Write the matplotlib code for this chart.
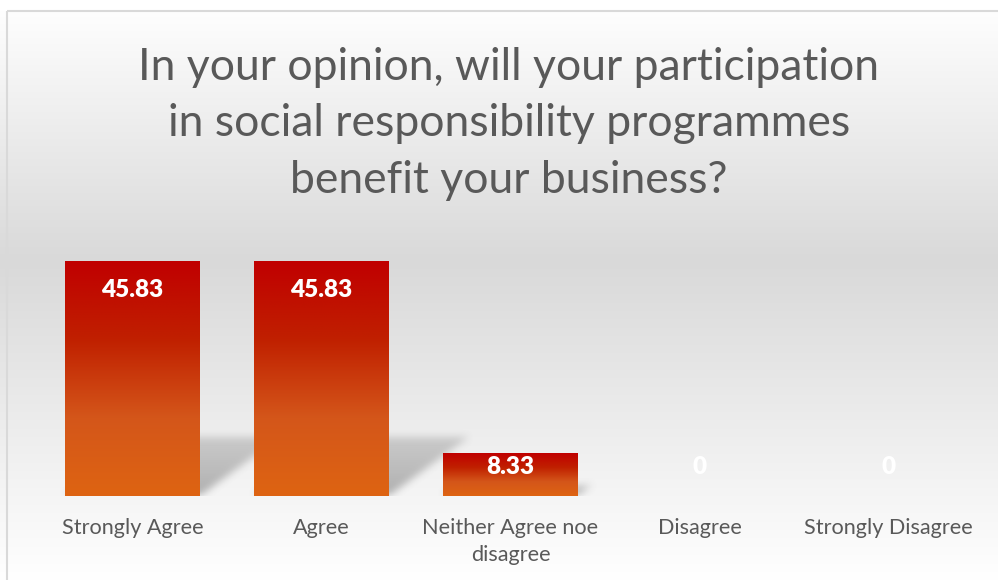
import numpy as np
import matplotlib.pyplot as plt
from matplotlib.colors import LinearSegmentedColormap
from matplotlib.patches import Rectangle

categories = ["Strongly Agree", "Agree", "Neither Agree noe\ndisagree", "Disagree", "Strongly Disagree"]
values = [45.83, 45.83, 8.33, 0, 0]
value_labels = ["45.83", "45.83", "8.33", "0", "0"]
title = "In your opinion, will your participation\nin social responsibility programmes\nbenefit your business?"

plt.rcParams['font.family'] = ['Lato', 'DejaVu Sans']

W, H = 998, 580
fig = plt.figure(figsize=(W / 100, H / 100), dpi=100)

# background: white -> grey -> white, chart box starts at y=10
bg = fig.add_axes([0, 0, 1, 1])
bg.set_xlim(0, W)
bg.set_ylim(H, 0)
bg.axis('off')
yy = np.arange(H)
shade = np.interp(yy, [0, 10, 260, 580], [255, 254, 217, 255]) / 255
shade[:10] = 1.0
img = np.repeat(shade[:, None], 4, axis=1)
img = np.dstack([img, img, img])
bg.imshow(img, extent=(0, W, H, 0), aspect='auto', zorder=0)
bg.add_patch(Rectangle((7.5, 10.5), W, H, fill=False, edgecolor='#d9d9d9', lw=1.5, zorder=1))
bg.text(509, 124, title, ha='center', va='center', fontsize=32, color='#595959',
        linespacing=1.48, zorder=2)

# main bar axes
ax = fig.add_axes([38 / W, (H - 496) / H, 945 / W, 256 / H])
ax.set_xlim(-0.5, 4.5)
ax.set_ylim(0, 50)
ax.patch.set_alpha(0)
for s in ax.spines.values():
    s.set_visible(False)
ax.set_yticks([])

x = np.arange(len(categories))
width = 0.714

# soft slanted shadows behind the bars
gx = np.linspace(-0.5, 4.5, 945)
gy = np.linspace(0, 50, 256)
GX, GY = np.meshgrid(gx, gy)
mask = np.zeros_like(GX)
for xi, h in zip(x, values):
    if h <= 0:
        continue
    sh = 0.25 * h
    d = 0.423 * h / 45.83
    t = np.clip(GY / sh, 0, None)
    left = xi - width / 2 + d * t
    right = xi + width / 2 + d * t
    inside = (GY <= sh) & (GX >= left) & (GX <= right)
    mask = np.maximum(mask, inside * (1 - 0.45 * t))
k = 9
kern = np.ones(k) / k
for _ in range(2):
    mask = np.apply_along_axis(lambda r: np.convolve(r, kern, mode='same'), 1, mask)
    mask = np.apply_along_axis(lambda c: np.convolve(c, kern, mode='same'), 0, mask)
shadow = np.zeros(mask.shape + (4,))
shadow[..., :3] = 0.42
shadow[..., 3] = mask * 0.5
ax.imshow(shadow, extent=(-0.5, 4.5, 0, 50), origin='lower', aspect='auto', zorder=1)

# gradient bars
cmap = LinearSegmentedColormap.from_list('bar', ['#de6412', '#d4561a', '#c02000', '#c00000'])
bars = ax.bar(x, values, width=width, color='none', zorder=2)
grad = np.linspace(0, 1, 256)[:, None]
for b, h in zip(bars, values):
    if h <= 0:
        continue
    im = ax.imshow(grad, cmap=cmap, origin='lower', aspect='auto', zorder=2,
                   extent=(b.get_x(), b.get_x() + b.get_width(), 0, h))
    im.set_clip_path(b)

for xi, h, lab in zip(x, values, value_labels):
    ax.text(xi, max(h - 5.65, 5.65), lab, ha='center', va='center', color='white',
            fontsize=17.5, fontweight='heavy', zorder=3)

ax.set_xticks(x)
ax.set_xticklabels(categories, fontsize=15.6, color='#595959', linespacing=1.4)
ax.tick_params(axis='x', length=0, pad=16)
ax.set_xlim(-0.5, 4.5)
ax.set_ylim(0, 50)

fig.savefig('out.png', dpi=100)
